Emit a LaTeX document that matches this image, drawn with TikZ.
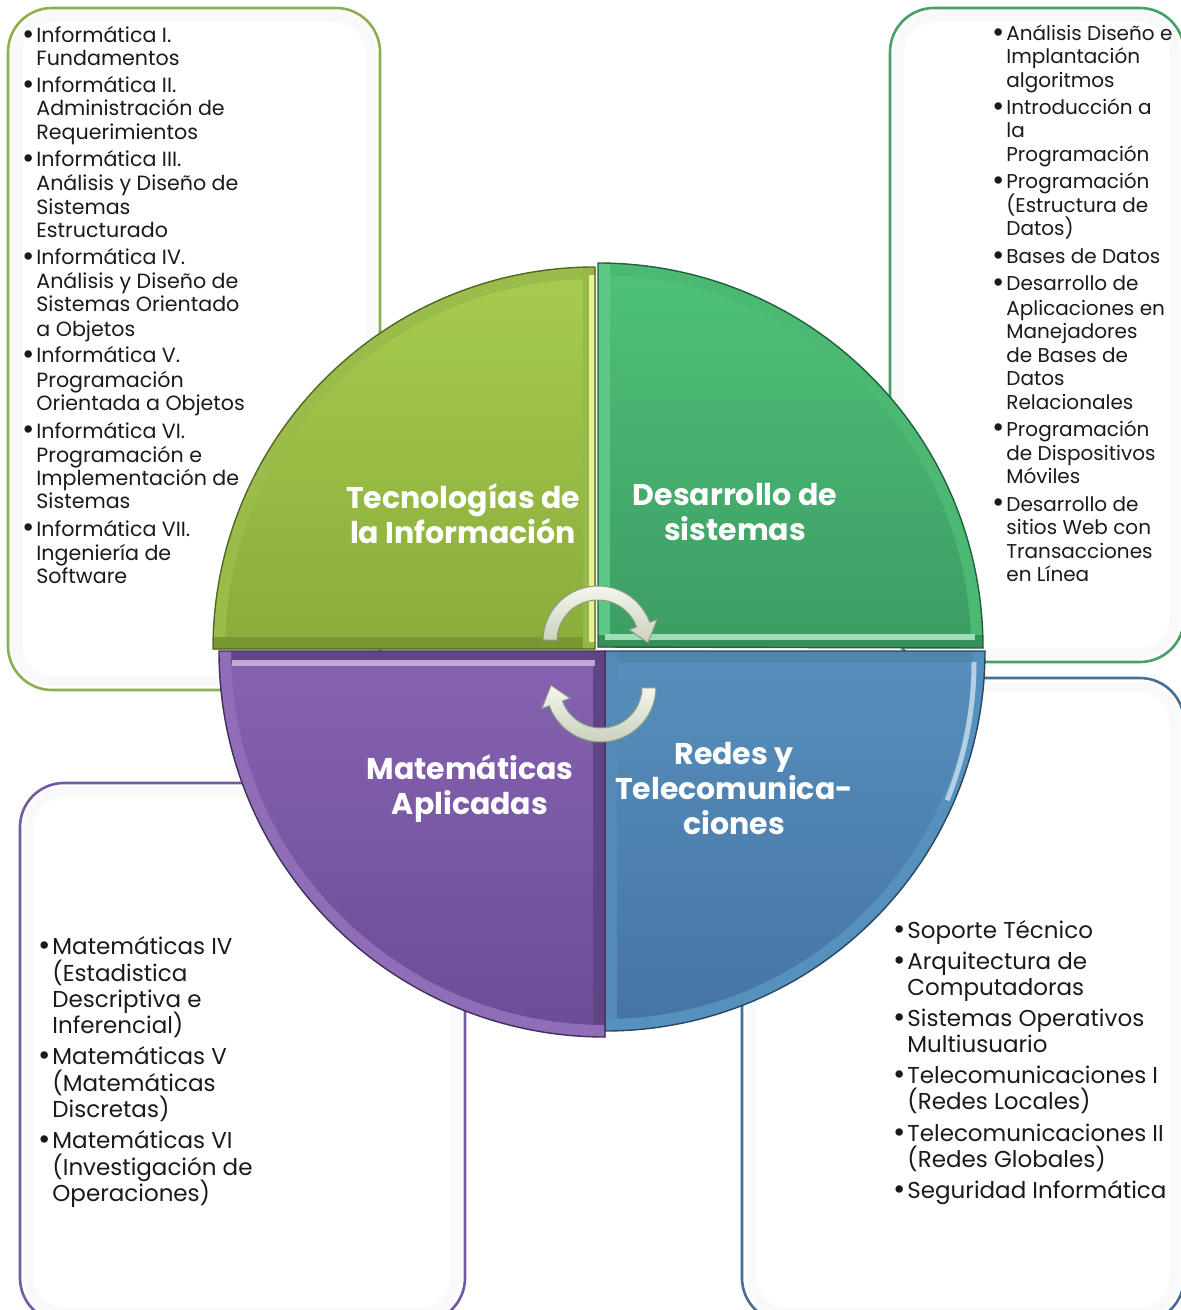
\documentclass[tikz,border=0pt]{standalone}
\usepackage{fontspec}
\setmainfont{Poppins}
\usetikzlibrary{calc}
\definecolor{tlA}{HTML}{A7CC50}
\definecolor{tlB}{HTML}{8AAC3A}
\definecolor{trA}{HTML}{4FC27A}
\definecolor{trB}{HTML}{3C9C62}
\definecolor{blA}{HTML}{8663B2}
\definecolor{blB}{HTML}{6C4C95}
\definecolor{brA}{HTML}{5B97C6}
\definecolor{brB}{HTML}{4574A3}
\definecolor{tlLine}{HTML}{8CB050}
\definecolor{trLine}{HTML}{46A068}
\definecolor{blLine}{HTML}{7458A2}
\definecolor{brLine}{HTML}{476F96}
\definecolor{arrA}{HTML}{F3F6EE}
\definecolor{arrB}{HTML}{C9D1BC}
\definecolor{arrE}{HTML}{8E9882}
\definecolor{txt}{HTML}{1A1A1A}
\tikzset{
  boxline/.style={line width=1.3pt, rounded corners=22pt},
  boxshade/.style={line width=5pt, rounded corners=18pt, draw=gray!5},
  lstS/.style={anchor=base west, inner sep=0pt, text=txt, font=\fontsize{10.3}{12}\selectfont},
  lstR/.style={anchor=base west, inner sep=0pt, text=txt, font=\fontsize{10}{12}\selectfont},
  lstL/.style={anchor=base west, inner sep=0pt, text=txt, font=\fontsize{11.5}{13}\selectfont},
  ttl/.style={align=center, text=white, inner sep=0pt, font=\fontsize{15}{17.5}\selectfont\bfseries},
  arrowshape/.style={top color=arrA, bottom color=arrB, draw=arrE, line width=0.5pt},
}
\newcommand\bul{\llap{\raisebox{-0.6pt}{\fontsize{15}{15}\selectfont •}\hspace{0.6pt}}}
\newcommand\tlq{(595,649) -- (213,649) arc (180:270:382) -- cycle}
\newcommand\trq{(598,647) -- (598,263) arc (270:360:385) -- cycle}
\newcommand\brq{(605,651) -- (985,651) arc (0:90:380) -- cycle}
\newcommand\blq{(605,651) -- (605,1037) arc (90:180:386) -- cycle}
\newcommand\circarrow[5]{%
  ($(#1,#2)+(#3:55)$) arc (#3:#4:55) -- ($(#1,#2)+(#4:63)$) -- ($(#1,#2)+(#5:50)$)
  -- ($(#1,#2)+(#4:33)$) -- ($(#1,#2)+(#4:41)$) arc (#4:#3:41) -- cycle}
\begin{document}
\begin{tikzpicture}[x=0.5pt,y=-0.5pt]
\useasboundingbox (0,0) rectangle (1181,1310);
\clip (0,0) rectangle (1181,1310);
\fill[white] (0,0) rectangle (1181,1310);
% ---- boxes
\draw[boxshade] (17,17) rectangle (371,681);
\draw[boxshade] (899,17) rectangle (1175,653);
\draw[boxshade] (751,687) rectangle (1175,1313);
\draw[boxshade] (29,792) rectangle (456,1313);
\draw[boxline, draw=tlLine] (8,8) rectangle (380,690);
\draw[boxline, draw=trLine] (890,8) rectangle (1184,662);
\draw[boxline, draw=brLine] (742,678) rectangle (1184,1322);
\draw[boxline, draw=blLine] (20,783) rectangle (465,1322);
% ---- quadrants
% TL
\fill[top color=tlA, bottom color=tlB] \tlq;
\begin{scope}
  \clip \tlq;
  \draw[line width=12pt, tlA!92!black] (213,649) arc (180:270:382);
  \draw[line width=12pt, tlB!88!black] (213,649) -- (595,649);
  \draw[line width=12pt, tlA!90!black] (595,267) -- (595,649);
  \draw[line width=3pt, tlA!55!yellow!50!white] (592,275) -- (592,642);
\end{scope}
\draw[line width=0.7pt, tlB!60!black] \tlq;
% TR
\fill[top color=trA, bottom color=trB] \trq;
\begin{scope}
  \clip \trq;
  \draw[line width=12pt, trA!95!black] (598,263) arc (270:360:385);
  \draw[line width=12pt, trA!92!white] (598,263) -- (598,647);
  \draw[line width=12pt, trB!92!black] (598,647) -- (983,647);
  \draw[line width=3pt, trA!55!white] (605,637) -- (975,637);
\end{scope}
\draw[line width=0.7pt, trB!60!black] \trq;
% BR
\fill[top color=brA!95!black, bottom color=brB] \brq;
\begin{scope}
  \clip \brq;
  \draw[line width=12pt, brA!88!black] (605,651) -- (985,651);
  \draw[line width=12pt, brA!92!black] (605,651) -- (605,1031);
  \draw[line width=12pt, brA!95!black] (985,651) arc (0:90:380);
  \draw[line width=2.5pt, brA!45!white] (974,662) arc (0:22:369);
\end{scope}
\draw[line width=0.7pt, brB!60!black] \brq;
% BL
\fill[top color=blA, bottom color=blB] \blq;
\begin{scope}
  \clip \blq;
  \draw[line width=12pt, blB!92!black] (605,651) -- (219,651);
  \draw[line width=12pt, blB!90!black] (605,651) -- (605,1037);
  \draw[line width=12pt, blA!93!white] (605,1037) arc (90:180:386);
  \draw[line width=3pt, blA!55!white] (595,663) -- (232,663);
\end{scope}
\draw[line width=0.7pt, blB!60!black] \blq;
% ---- circular arrows
\path[arrowshape] \circarrow{598}{641}{181}{340}{362};
\path[arrowshape] \circarrow{601}{687}{1}{160}{182};
% ---- titles
\node[ttl] (t1) at (463,514) {Tecnologías de\\la Información};
\node[ttl] (t2) at (735,512) {Desarrollo de\\sistemas};
\node[ttl] (t3) at (470,789) {Matemáticas\\Aplicadas};
\node[ttl] (t4) at (734,789) {Redes y\\Telecomunica-\\ciones};
% ---- lists
\foreach \yy/\bb/\tx [count=\i] in {
 36/1/Informática I., 59/0/Fundamentos,
 86/1/Informática II., 109/0/Administración de, 133/0/Requerimientos,
 160/1/Informática III., 184/0/Análisis y Diseño de, 208/0/Sistemas, 231/0/Estructurado,
 258/1/Informática IV., 282/0/Análisis y Diseño de, 305/0/Sistemas Orientado, 329/0/a Objetos,
 356/1/Informática V., 380/0/Programación, 403/0/Orientada a Objetos,
 431/1/Informática VI., 455/0/Programación e, 478/0/Implementación de, 501/0/Sistemas,
 529/1/Informática VII., 553/0/Ingeniería de, 576/0/Software}
 {\node[lstS] (tl\i) at (36,\yy+7) {\ifnum\bb=1 \bul\fi\tx};}
\foreach \yy/\bb/\tx [count=\i] in {
 34/1/Análisis Diseño e, 57/0/Implantación, 81/0/algoritmos,
 108/1/Introducción a, 131/0/la, 155/0/Programación,
 182/1/Programación, 206/0/(Estructura de, 229/0/Datos),
 257/1/Bases de Datos,
 284/1/Desarrollo de, 308/0/Aplicaciones en, 331/0/Manejadores, 355/0/de Bases de, 378/0/Datos, 402/0/Relacionales,
 429/1/Programación, 453/0/de Dispositivos, 476/0/Móviles,
 504/1/Desarrollo de, 527/0/sitios Web con, 551/0/Transacciones, 574/0/en Línea}
 {\node[lstR] (tr\i) at (1006,\yy+7) {\ifnum\bb=1 \bul\fi\tx};}
\foreach \yy/\bb/\tx [count=\i] in {
 946/1/Matemáticas IV, 973/0/(Estadistica, 999/0/Descriptiva e, 1025/0/Inferencial),
 1056/1/Matemáticas V, 1083/0/(Matemáticas, 1109/0/Discretas),
 1140/1/Matemáticas VI, 1167/0/(Investigación de, 1193/0/Operaciones)}
 {\node[lstL] (bl\i) at (52,\yy+8) {\ifnum\bb=1 \bul\fi\tx};}
\foreach \yy/\bb/\tx [count=\i] in {
 930/1/Soporte Técnico, 961/1/Arquitectura de, 987/0/Computadoras,
 1018/1/Sistemas Operativos, 1044/0/Multiusuario,
 1075/1/Telecomunicaciones I, 1101/0/(Redes Locales),
 1133/1/Telecomunicaciones II, 1159/0/(Redes Globales),
 1190/1/Seguridad Informática}
 {\node[lstL] (br\i) at (907,\yy+8) {\ifnum\bb=1 \bul\fi\tx};}
\end{tikzpicture}
\end{document}
